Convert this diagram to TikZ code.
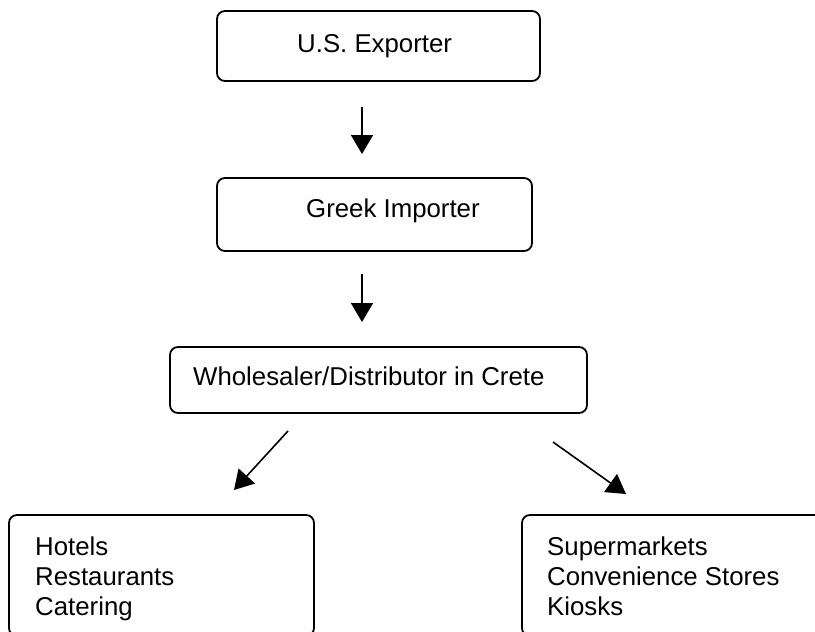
\documentclass[tikz,border=0pt]{standalone}
\usepackage{fontspec}
\setmainfont{Liberation Sans}
\usetikzlibrary{arrows.meta}
\begin{document}
\begin{tikzpicture}[x=1pt,y=-1pt,
  box/.style={draw=black, line width=1.8pt, rounded corners=8pt, inner sep=0pt},
  lbl/.style={inner sep=0pt, anchor=base west, align=left, font=\fontsize{25.8}{30}\selectfont},
  flow/.style={line width=1.6pt, -{Triangle[length=19pt,width=22pt]}}]
\useasboundingbox (0,0) rectangle (815,632);
% boxes
\node[box, minimum width=323pt, minimum height=70pt] (exp) at (378.5,46) {};
\node[box, minimum width=315pt, minimum height=73pt] (imp) at (374.5,214.5) {};
\node[box, minimum width=417pt, minimum height=66pt] (whs) at (378.5,380) {};
\node[box, minimum width=305pt, minimum height=121pt] (hrc) at (161.5,575.5) {};
\node[box, minimum width=310pt, minimum height=121pt] (smk) at (677,575.5) {};
% labels (multi-line labels are anchored at the baseline of their last line)
\node[lbl] (texp) at (297,52) {U.S. Exporter};
\node[lbl] (timp) at (306,217) {Greek Importer};
\node[lbl] (twhs) at (193,385) {Wholesaler/Distributor in Crete};
\node[lbl] (thrc) at (35,615) {Hotels\\Restaurants\\Catering};
\node[lbl] (tsmk) at (547,615) {Supermarkets\\Convenience Stores\\Kiosks};
% arrow ends
\coordinate (a1s) at (362,107); \coordinate (a1e) at (362,154);
\coordinate (a2s) at (362,274); \coordinate (a2e) at (362,322);
\coordinate (a3s) at (288,431); \coordinate (a3e) at (234,490);
\coordinate (a4s) at (553,442); \coordinate (a4e) at (626,494);
\draw[flow] (a1s) -- (a1e);
\draw[flow] (a2s) -- (a2e);
\draw[flow] (a3s) -- (a3e);
\draw[flow] (a4s) -- (a4e);
\end{tikzpicture}
\end{document}
